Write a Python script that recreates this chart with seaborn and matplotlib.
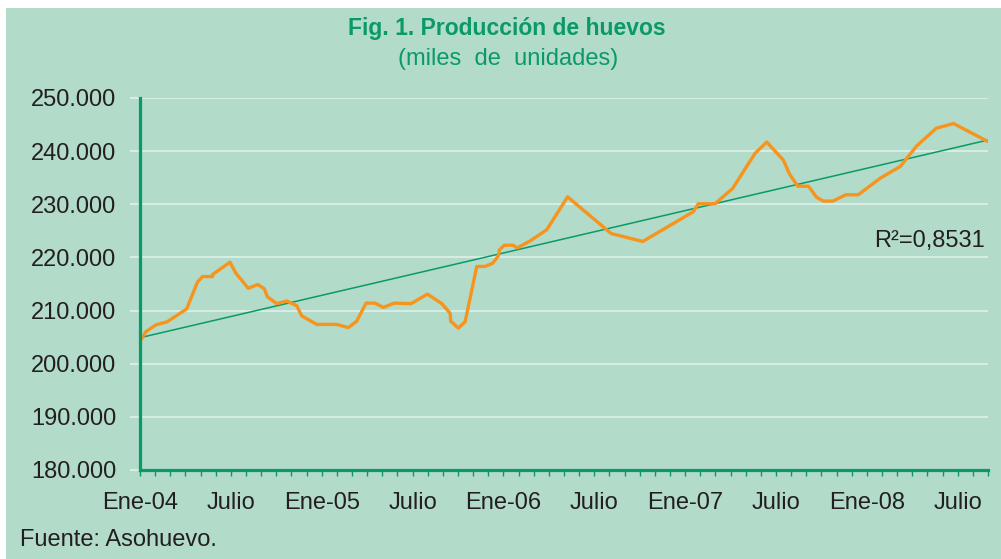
import numpy as np
import pandas as pd
import seaborn as sns
import matplotlib.pyplot as plt
from matplotlib.patches import Rectangle
from matplotlib.ticker import FuncFormatter, MultipleLocator

sns.set_theme(style='white')
plt.rcParams['font.family'] = ['Liberation Sans', 'DejaVu Sans']

# meses desde Ene-04 (vertices) y produccion en miles de unidades
meses = [0.0, 0.38, 1.04, 1.8, 3.08, 3.8, 4.13, 4.8, 4.8, 5.94, 6.34, 7.15, 7.77, 8.21,
         8.41, 9.03, 9.69, 10.35, 10.68, 11.67, 12.99, 13.76, 14.31, 14.93, 15.52, 16.07,
         16.8, 17.9, 18.98, 19.93, 20.48, 20.52, 21.03, 21.47, 22.24, 22.78, 23.29, 23.67,
         23.73, 24.06, 24.61, 24.92, 25.76, 26.86, 28.24, 31.11, 33.2, 36.54, 36.87, 37.98,
         39.14, 40.62, 41.39, 42.49, 42.89, 43.44, 44.14, 44.69, 45.13, 45.75, 46.63, 47.44,
         48.88, 50.2, 51.3, 52.58, 53.72, 56.0]
produccion = [204200, 206000, 207300, 207900, 210300, 215400, 216400, 216400, 216800, 219100,
              217000, 214200, 214900, 214100, 212600, 211300, 211800, 210900, 209000, 207400,
              207400, 206800, 208000, 211400, 211400, 210600, 211400, 211300, 213100, 211300,
              209500, 208000, 206700, 207900, 218300, 218300, 218900, 220300, 221400, 222300,
              222300, 221800, 223100, 225200, 231400, 224500, 223000, 228600, 230100, 230100,
              233000, 239600, 241700, 238300, 235700, 233400, 233400, 231300, 230600, 230600,
              231800, 231800, 234900, 237100, 241000, 244300, 245200, 241800]

etiquetas_x = ['Ene-04', 'Julio', 'Ene-05', 'Julio', 'Ene-06', 'Julio',
               'Ene-07', 'Julio', 'Ene-08', 'Julio']
pos_etiquetas = [0, 6, 12, 18, 24, 30, 36, 42, 48, 54]
valores_y = [180000, 190000, 200000, 210000, 220000, 230000, 240000, 250000]

verde_fondo = '#b2dbca'
verde = '#0a9a68'
naranja = '#f7941d'
gris_grid = '#dcefe7'
texto = '#231f20'

df = pd.DataFrame({'mes': meses, 'produccion': produccion})

# tendencia lineal: cada vertice pesa segun el tramo de tiempo que cubre
x = np.array(meses)
span = np.diff(np.concatenate([[x[0]], x, [x[-1]]]))
w = (span[:-1] + span[1:]) / 2
coef = np.polyfit(x, df.produccion.values, 1, w=np.sqrt(w))
tend = pd.DataFrame({'mes': [x[0], x[-1]]})
tend['produccion'] = np.polyval(coef, tend.mes)

fig = plt.figure(figsize=(10.01, 5.59), dpi=100, facecolor='white')
fig.patches.append(Rectangle((6 / 1001, 0), 1, 1 - 8 / 559, transform=fig.transFigure,
                             facecolor=verde_fondo, edgecolor='none', zorder=-10))
ax = fig.add_axes([140 / 1001, 1 - 470 / 559, 848 / 1001, 372 / 559])
ax.set_facecolor(verde_fondo)

sns.lineplot(data=tend, x='mes', y='produccion', color=verde, lw=1.1, ax=ax, zorder=3)
sns.lineplot(data=df, x='mes', y='produccion', sort=False, estimator=None,
             color=naranja, lw=2.4, ax=ax, zorder=4)

ax.set_xlim(0, 56)
ax.set_ylim(180000, 250000)
ax.set_yticks(valores_y)
ax.yaxis.set_major_formatter(FuncFormatter(lambda v, p: f'{v:,.0f}'.replace(',', '.')))
ax.set_xticks(pos_etiquetas)
ax.set_xticklabels(etiquetas_x)
ax.xaxis.set_minor_locator(MultipleLocator(1))
ax.set_xlabel('')
ax.set_ylabel('')

ax.yaxis.grid(True, color=gris_grid, lw=1.3)
ax.set_axisbelow(True)
for s in ['top', 'right']:
    ax.spines[s].set_visible(False)
for s in ['left', 'bottom']:
    ax.spines[s].set_color(verde)
    ax.spines[s].set_linewidth(2.3)
    ax.spines[s].set_zorder(5)

ax.tick_params(axis='x', which='both', direction='out', length=4, width=1, color=verde,
               bottom=True, labelsize=17, labelcolor=texto, pad=12)
ax.tick_params(axis='y', direction='out', length=7, width=1.3, color=gris_grid,
               left=True, labelsize=17, labelcolor=texto, pad=10)

fig.text(507 / 1001, 1 - 29 / 559, 'Fig. 1. Producción de huevos', ha='center', va='center',
         fontsize=16.5, fontweight='bold', color=verde)
fig.text(508 / 1001, 1 - 59 / 559, '(miles  de  unidades)', ha='center', va='center',
         fontsize=17, color=verde)
fig.text(985 / 1001, 1 - 241 / 559, 'R²=0,8531', ha='right', va='center',
         fontsize=17, color=texto)
fig.text(20 / 1001, 1 - 540 / 559, 'Fuente: Asohuevo.', ha='left', va='center',
         fontsize=17, color=texto)

fig.savefig('out.png', dpi=100, facecolor=fig.get_facecolor())
